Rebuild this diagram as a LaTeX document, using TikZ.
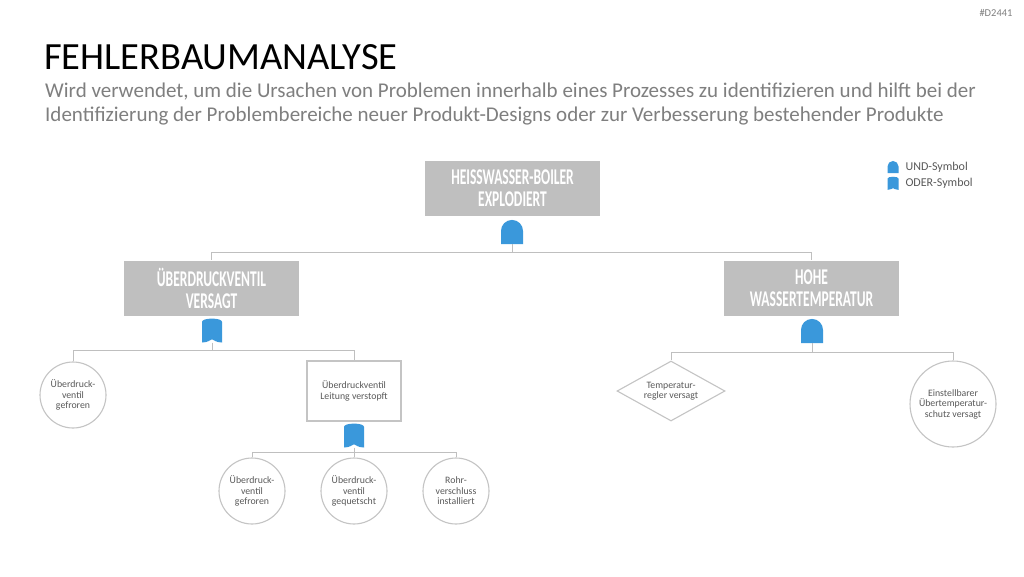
\documentclass[tikz,border=0pt]{standalone}
\usepackage{fontspec}
\setmainfont{Carlito}
\newfontfamily\headfont[FakeStretch=0.6]{Carlito}
\usetikzlibrary{shapes.geometric}
\definecolor{boxgray}{HTML}{BFBFBF}
\definecolor{linegray}{HTML}{BFBFBF}
\definecolor{ringgray}{HTML}{C4C4C4}
\definecolor{textgray}{HTML}{595959}
\definecolor{subgray}{HTML}{7F7F7F}
\definecolor{gateblue}{HTML}{3A98DB}
\begin{document}
\begin{tikzpicture}[x=1pt, y=-1pt,
  event/.style={fill=boxgray, minimum width=175, minimum height=55, inner sep=0pt, align=center, text=white, font=\headfont\bfseries\fontsize{22.5}{22}\selectfont},
  basic/.style={circle, draw=ringgray, line width=1.1pt, minimum size=#1, inner sep=0pt, align=center, text=textgray, font=\fontsize{9.8}{10.5}\selectfont},
  basic/.default=66,
  link/.style={draw=linegray, line width=1pt},
  andgate/.style={minimum width=#1, minimum height=1.1*#1, inner sep=0pt, outer sep=0pt,
    path picture={
      \path (path picture bounding box.south west) coordinate (gsw)
            (path picture bounding box.south east) coordinate (gse)
            (path picture bounding box.north east) coordinate (gne);
      \fill[gateblue] (gsw) -- (gse) -- ([yshift=-#1/2]gne) arc[start angle=0, end angle=180, radius=#1/2] -- cycle;}},
  andgate/.default=22pt,
  orgate/.style={minimum width=#1, minimum height=1.25*#1, inner sep=0pt, outer sep=0pt,
    path picture={
      \path (path picture bounding box.south west) coordinate (gsw)
            (path picture bounding box.south east) coordinate (gse)
            (path picture bounding box.north west) coordinate (gnw)
            (path picture bounding box.north east) coordinate (gne)
            (path picture bounding box.south) coordinate (gs);
      \fill[gateblue] (gsw) -- ([yshift=-0.22*#1]gnw) .. controls (gnw) and (gne) .. ([yshift=-0.22*#1]gne) -- (gse)
        .. controls ([xshift=-0.3*#1]gse) and ([xshift=0.1*#1, yshift=0.13*#1]gs) .. ([yshift=0.16*#1]gs)
        .. controls ([xshift=-0.1*#1, yshift=0.13*#1]gs) and ([xshift=0.3*#1]gsw) .. (gsw) -- cycle;}},
  orgate/.default=20pt]
\useasboundingbox (0,0) rectangle (1024,576);
\fill[white] (0,0) rectangle (1024,576);

% Kopf
\node[anchor=north east, text=subgray, font=\fontsize{10.5}{12}\selectfont] (tag) at (1016,6) {\#D2441};
\node[anchor=base west, inner sep=0pt, font=\fontsize{38.5}{42}\selectfont] (title) at (44,69) {FEHLERBAUMANALYSE};
\node[anchor=base west, inner sep=0pt, text=subgray, font=\fontsize{21}{24}\selectfont] (sub1) at (45,97)
  {Wird verwendet, um die Ursachen von Problemen innerhalb eines Prozesses zu identifizieren und hilft bei der};
\node[anchor=base west, inner sep=0pt, text=subgray, font=\fontsize{21}{24}\selectfont] (sub2) at (45,121)
  {Identifizierung der Problembereiche neuer Produkt-Designs oder zur Verbesserung bestehender Produkte};

% Legende
\node[andgate=11pt] (legand) at (893,167) {};
\node[anchor=west, text=textgray, font=\fontsize{12}{14}\selectfont] (legandtxt) at (902,167) {UND-Symbol};
\node[orgate=11pt] (legor) at (893,183) {};
\node[anchor=west, text=textgray, font=\fontsize{12}{14}\selectfont] (legortxt) at (902,183) {ODER-Symbol};

% Ebene 1
\node[event] (top) at (512.5,188) {HEISSWASSER-BOILER\\EXPLODIERT};
\node[andgate] (g1) at (512,232) {};
\coordinate (j1) at (512,252);

% Ebene 2
\node[event] (valve) at (211.5,288) {ÜBERDRUCKVENTIL\\VERSAGT};
\node[event] (temp) at (811.5,288) {HOHE\\WASSERTEMPERATUR};
\node[orgate] (g2) at (212,330) {};
\node[andgate] (g3) at (812,331) {};
\coordinate (j2) at (212,350);
\coordinate (j3) at (812,352);

% Ebene 3
\node[basic] (frozen) at (73,395) {Überdruck-\\ventil\\gefroren};
\node[draw=ringgray, line width=1.1pt, minimum width=94, minimum height=60, inner sep=0pt, align=center, text=textgray, font=\fontsize{9.8}{11.5}\selectfont] (blocked) at (354,391) {Überdruckventil\\Leitung verstopft};
\node[diamond, aspect=1.8, draw=ringgray, line width=1.1pt, minimum width=108, minimum height=60, inner sep=0pt, align=center, text=textgray, font=\fontsize{9.8}{10.5}\selectfont] (regler) at (671,391) {Temperatur-\\regler versagt};
\node[basic=86] (schutz) at (953,404) {Einstellbarer\\Übertemperatur-\\schutz versagt};
\node[orgate] (g4) at (354,435) {};
\coordinate (j4) at (354,452);

% Ebene 4
\node[basic] (frozen2) at (252,491) {Überdruck-\\ventil\\gefroren};
\node[basic] (squeezed) at (354,491) {Überdruck-\\ventil\\gequetscht};
\node[basic] (pipe) at (456,491) {Rohr-\\verschluss\\installiert};

% Verbindungen
\draw[link] (g1.south) -- (j1);
\draw[link] (j1) -| (valve.north);
\draw[link] (j1) -| (temp.north);
\draw[link] (g2.south) -- (j2);
\draw[link] (j2) -| (frozen.north);
\draw[link] (j2) -| (blocked.north);
\draw[link] (g3.south) -- (j3);
\draw[link] (j3) -| (regler.north);
\draw[link] (j3) -| (schutz.north);
\draw[link] (g4.south) -- (j4);
\draw[link] (j4) -| (frozen2.north);
\draw[link] (j4) -- (squeezed.north);
\draw[link] (j4) -| (pipe.north);
\end{tikzpicture}
\end{document}
